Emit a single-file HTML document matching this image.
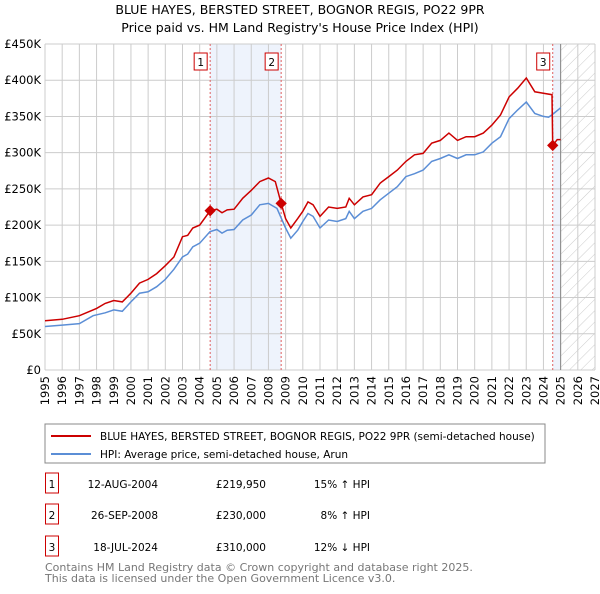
<!DOCTYPE html>
<html><head><meta charset="utf-8"><style>
body{margin:0;background:#fff;font-family:"DejaVu Sans","Liberation Sans",sans-serif;}
svg text{font-family:"DejaVu Sans","Liberation Sans",sans-serif;}
</style></head><body>
<svg id="chart" width="600" height="590" viewBox="0 0 600 590" xmlns="http://www.w3.org/2000/svg">
<defs><pattern id="hatch" patternUnits="userSpaceOnUse" width="8" height="8" patternTransform="rotate(45)"><line x1="0" y1="0" x2="0" y2="8" stroke="#ccc" stroke-width="1"/></pattern></defs>
<text x="300" y="14" text-anchor="middle" font-size="12.5">BLUE HAYES, BERSTED STREET, BOGNOR REGIS, PO22 9PR</text>
<text x="300" y="32" text-anchor="middle" font-size="12.5">Price paid vs. HM Land Registry's House Price Index (HPI)</text>
<g id="plot"></g>
<rect x="45" y="424" width="500" height="39" fill="#fff" stroke="#888"/>
<line x1="51" y1="436" x2="91" y2="436" stroke="#cc0000" stroke-width="2"/>
<text x="100" y="440" font-size="10.5">BLUE HAYES, BERSTED STREET, BOGNOR REGIS, PO22 9PR (semi-detached house)</text>
<line x1="51" y1="454" x2="91" y2="454" stroke="#5b8ed6" stroke-width="2"/>
<text x="100" y="458" font-size="10.5">HPI: Average price, semi-detached house, Arun</text>
<g id="table" font-size="10.5"></g>
<text x="45" y="571" font-size="11" fill="#777">Contains HM Land Registry data © Crown copyright and database right 2025.</text>
<text x="45" y="582" font-size="11" fill="#777">This data is licensed under the Open Government Licence v3.0.</text>
</svg>
<script>
const hpiYears=[1995,1996,1997,1997.8,1998.5,1999,1999.5,2000,2000.5,2001,2001.5,2002,2002.5,2003,2003.3,2003.6,2004,2004.6,2005,2005.3,2005.6,2006,2006.5,2007,2007.5,2008,2008.5,2009,2009.3,2009.7,2010,2010.3,2010.6,2011,2011.5,2012,2012.5,2012.7,2013,2013.5,2014,2014.5,2015,2015.5,2016,2016.5,2017,2017.5,2018,2018.5,2019,2019.5,2020,2020.5,2021,2021.5,2022,2022.5,2023,2023.5,2024,2024.3,2024.6,2025];
const hpiValues=[60,62,64,75,79,83,81,94,106,108,115,125,139,156,160,170,175,191,194,189,193,194,207,214,228,230,223,196,182,193,205,216,212,196,207,205,209,219,209,219,223,235,244,253,267,271,276,288,292,297,292,297,297,301,313,322,347,359,370,354,350,349,354,362];
const redYears=[1995,1996,1997,1998,1998.5,1999,1999.5,2000,2000.5,2001,2001.5,2002,2002.5,2003,2003.3,2003.6,2004,2004.61,2005,2005.3,2005.6,2006,2006.5,2007,2007.5,2008,2008.4,2008.74,2009,2009.3,2009.7,2010,2010.3,2010.6,2011,2011.5,2012,2012.5,2012.7,2013,2013.5,2014,2014.5,2015,2015.5,2016,2016.5,2017,2017.5,2018,2018.5,2019,2019.5,2020,2020.5,2021,2021.5,2022,2022.5,2023,2023.5,2024,2024.5,2024.54,2024.8,2025];
const redValues=[68,70,75,85,92,96,94,106,120,125,133,144,156,184,186,196,200,219.95,222,217,221,222,237,248,260,265,260,230,209,196,209,219,232,228,212,225,223,225,237,228,239,242,258,267,276,288,297,299,313,317,327,317,322,322,327,338,352,377,389,403,384,382,380,310,318,318];
const saleYears=[2004.61,2008.74,2024.54];
const salePrices=[219.95,230,310];
const saleLabels=["1","2","3"];
const saleDates=["12-AUG-2004","26-SEP-2008","18-JUL-2024"];
const salePriceText=["£219,950","£230,000","£310,000"];
const saleHpiText=["15% ↑ HPI","8% ↑ HPI","12% ↓ HPI"];
const yTicks=[0,50,100,150,200,250,300,350,400,450];
const yTickLabels=["£0","£50K","£100K","£150K","£200K","£250K","£300K","£350K","£400K","£450K"];
const xTicks=[1995,1996,1997,1998,1999,2000,2001,2002,2003,2004,2005,2006,2007,2008,2009,2010,2011,2012,2013,2014,2015,2016,2017,2018,2019,2020,2021,2022,2023,2024,2025,2026,2027];

const X0=45,X1=595,Y0=370,Y1=44;
const xs=y=>X0+(y-1995)/(2027-1995)*(X1-X0);
const ys=v=>Y0-v/450*(Y0-Y1);
const NS="http://www.w3.org/2000/svg";
const plot=document.getElementById('plot');
function mk(tag,attrs,parent){const e=document.createElementNS(NS,tag);for(const k in attrs)e.setAttribute(k,attrs[k]);(parent||plot).appendChild(e);return e;}
// shading
let r=mk('rect',{x:xs(saleYears[0]),y:Y1,width:xs(saleYears[1])-xs(saleYears[0]),height:Y0-Y1,fill:'#eef3fc'});


r=mk('rect',{x:xs(saleYears[2]),y:Y1,width:xs(2025)-xs(saleYears[2]),height:Y0-Y1,fill:'#eef3fc'});


r=mk('rect',{x:xs(2025),y:Y1,width:X1-xs(2025),height:Y0-Y1,fill:'url(#hatch)'});


// grid
yTicks.forEach((t,i)=>{
 const l=mk('line',{x1:X0,x2:X1,y1:ys(t),y2:ys(t),stroke:'#ccc','stroke-width':1});
 
 
 const tx=mk('text',{x:X0-4,y:ys(t)+4,'text-anchor':'end','font-size':'11.5'});
 
 
 tx.textContent=yTickLabels[i];
});
xTicks.forEach(t=>{
 const l=mk('line',{x1:xs(t),x2:xs(t),y1:Y1,y2:Y0,stroke:'#ccc','stroke-width':1});
 
 
 const tx=mk('text',{x:0,y:0,'font-size':'11.5','text-anchor':'end',transform:`translate(${xs(t)+4},${Y0+6}) rotate(-90)`});
 
 
 tx.textContent=t;
});
let v=mk('line',{x1:xs(2025),x2:xs(2025),y1:Y1,y2:Y0,stroke:'#888','stroke-width':1});


// sale lines
saleYears.forEach((s,i)=>{
 const l=mk('line',{x1:xs(s),x2:xs(s),y1:Y1,y2:Y0,stroke:'#e06060','stroke-width':1,'stroke-dasharray':'2,2'});
 
 
 const b=mk('rect',{x:xs(s)-16,y:53,width:13,height:17,fill:'#fff',stroke:'#cc0000'});
 
 
 const t=mk('text',{x:xs(s)-9.5,y:66,'text-anchor':'middle','font-size':'10.5'});
 
 
 t.textContent=saleLabels[i];
});
const path=(xa,va)=>xa.map((x,i)=>(i?'L':'M')+xs(x).toFixed(1)+','+ys(va[i]).toFixed(1)).join('');
let p=mk('path',{d:path(hpiYears,hpiValues),fill:'none',stroke:'#5b8ed6','stroke-width':1.5});


p=mk('path',{d:path(redYears,redValues),fill:'none',stroke:'#cc0000','stroke-width':1.5});


saleYears.forEach((s,i)=>{
 const d=mk('rect',{x:xs(s)-4,y:ys(salePrices[i])-4,width:8,height:8,fill:'#cc0000',transform:`rotate(45 ${xs(s)} ${ys(salePrices[i])})`});
 
 
});
// table
const tbl=document.getElementById('table');
const rowY=[484,515,547];
saleLabels.forEach((lab,i)=>{
 const y=rowY[i];
 const b=mk('rect',{x:45.5,y:y-11,width:13,height:20,fill:'#fff',stroke:'#cc0000'},tbl);
 
 
 const cells=[[lab,52,'middle'],[saleDates[i],158,'end'],[salePriceText[i],266,'end'],[saleHpiText[i],370,'end']];
 cells[1][1]=158;cells[1][2]='end';
 cells.forEach((c,j)=>{
  const t=mk('text',{x:c[1],y:y+4,'text-anchor':c[2]},tbl);
  
  
  t.textContent=c[0];
 });
});
</script>
</body></html>
